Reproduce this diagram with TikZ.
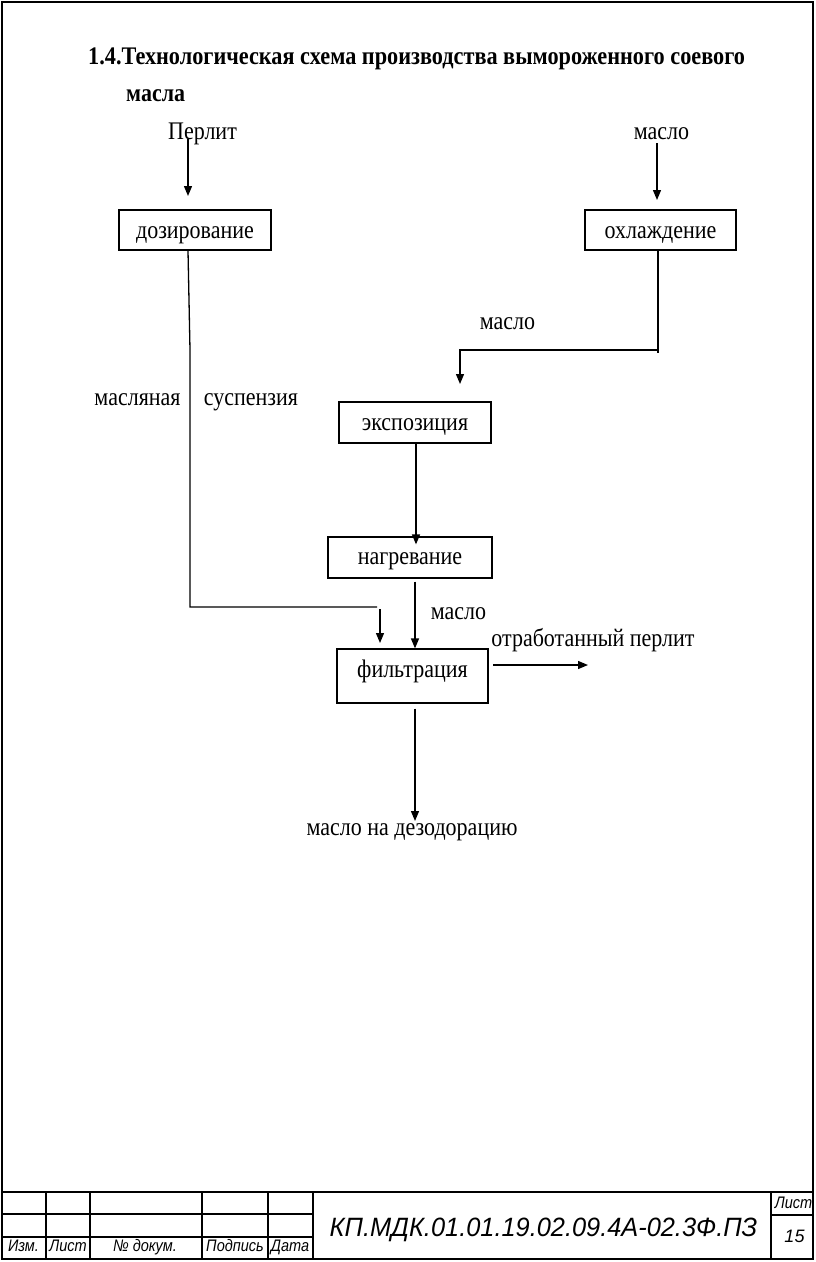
\documentclass[tikz,border=0pt]{standalone}
\usepackage{fontspec}
\setmainfont{Liberation Serif}
\newfontfamily\gostfont{Liberation Sans}
\usetikzlibrary{arrows.meta}
\newcommand{\vst}[1]{\scalebox{1}[1.15]{#1}}
\tikzset{
  procbox/.style={draw, line width=1.2pt, rectangle, inner sep=0pt, anchor=base, font=\fontsize{22}{24}\selectfont},
  lbl/.style={inner sep=0pt, anchor=base, font=\fontsize{22}{24}\selectfont},
  flow/.style={line width=1.3pt, -{Triangle[length=10pt,width=8pt]}},
  plain/.style={line width=1.3pt},
  frame/.style={line width=2pt},
  gost/.style={inner sep=0pt, anchor=base, font=\gostfont\itshape\fontsize{14.5}{16}\selectfont},
}
\begin{document}
\begin{tikzpicture}[x=1pt,y=-1pt]
\useasboundingbox (0,0) rectangle (816,1262);
% outer frame
\draw[frame] (2,2) rectangle (813,1259);
% title block
\draw[frame] (2,1192) -- (813,1192);
\draw[frame] (2,1214) -- (313,1214);
\draw[frame] (2,1237) -- (313,1237);
\foreach \xx in {46,90,202,268,313} \draw[frame] (\xx,1192) -- (\xx,1259);
\draw[frame] (771,1192) -- (771,1259);
\draw[frame] (771,1215) -- (813,1215);
\node[gost] (tizm) at (23.5,1251) {\vst{Изм.}};
\node[gost] (tlist) at (68,1251) {\vst{Лист}};
\node[gost] (tdoc) at (145,1251) {\vst{№ докум.}};
\node[gost] (tpodp) at (235,1251) {\vst{Подпись}};
\node[gost] (tdata) at (290,1251) {\vst{Дата}};
\node[gost] (tlist2) at (793.5,1208) {\vst{Лист}};
\node[gost, font=\gostfont\itshape\fontsize{18}{20}\selectfont] (tnum) at (794.5,1242) {15};
\node[inner sep=0pt, anchor=base, font=\gostfont\itshape\fontsize{26.5}{28}\selectfont] (tcode) at (543.5,1236) {\scalebox{0.957}[1]{КП.МДК.01.01.19.02.09.4А-02.3Ф.ПЗ}};
% heading
\node[inner sep=0pt, anchor=base west, font=\bfseries\fontsize{22}{24}\selectfont] (head1) at (88,64) {\scalebox{1.012}[1.15]{1.4.Технологическая схема производства вымороженного соевого}};
\node[inner sep=0pt, anchor=base west, font=\bfseries\fontsize{22}{24}\selectfont] (head2) at (126,101) {\vst{масла}};
% inputs
\node[lbl] (perlit) at (202.5,139) {\vst{Перлит}};
\node[lbl] (maslo1) at (661.5,139) {\vst{масло}};
% boxes (text height/depth fix the box edges round the baseline)
\node[procbox, minimum width=152pt, text height=28pt, text depth=12pt] (doz) at (195,238) {\vst{дозирование}};
\node[procbox, minimum width=151pt, text height=28pt, text depth=12pt] (ohl) at (660.5,238) {\vst{охлаждение}};
\node[procbox, minimum width=152pt, text height=28pt, text depth=13pt] (eks) at (415,430) {\vst{экспозиция}};
\node[procbox, minimum width=164pt, text height=27pt, text depth=14pt] (nagr) at (410,564) {\vst{нагревание}};
\node[procbox, minimum width=151pt, text height=28pt, text depth=26pt] (filt) at (412.5,677) {\vst{фильтрация}};
% labels
\node[lbl] (maslo2) at (507.5,329) {\vst{масло}};
\node[lbl] (masl) at (137.5,405) {\vst{масляная}};
\node[lbl] (susp) at (251,405) {\vst{суспензия}};
\node[lbl] (maslo3) at (458.5,619) {\vst{масло}};
\node[lbl] (otrab) at (593,646) {\vst{отработанный перлит}};
\node[lbl] (dezod) at (412,835) {\vst{масло на дезодорацию}};
% coordinates
\coordinate (pa) at (188,139);
\coordinate (pb) at (188,196);
\coordinate (ma) at (657,143);
\coordinate (mb) at (657,200);
\coordinate (oc) at (658,353);
\coordinate (ob) at (658,350);
\coordinate (oa) at (460,350);
\coordinate (oe) at (460,384);
\coordinate (ll1) at (190,350);
\coordinate (ll2) at (190,607);
\coordinate (ll3) at (377,607);
\coordinate (la) at (380,609);
\coordinate (lb) at (380,643);
\coordinate (fo) at (493,665);
\coordinate (fe) at (588,665);
\coordinate (fd) at (415,821);
% connectors
\draw[flow] (pa) -- (pb);
\draw[flow] (ma) -- (mb);
\draw[plain] (ohl.south -| oc) -- (oc);
\draw[flow] (ob) -- (oa) -- (oe);
\draw[flow] ([xshift=1pt]eks.south) -- ([xshift=6pt,yshift=-8pt]nagr.north);
\draw[flow] ([xshift=5pt,yshift=-3pt]nagr.south) -- ([xshift=2.5pt]filt.north);
\draw[plain] ([xshift=-7pt]doz.south) -- (ll1) -- (ll2) -- (ll3);
\draw[flow] (la) -- (lb);
\draw[flow] (fo) -- (fe);
\draw[flow] ([xshift=2.5pt,yshift=-5pt]filt.south) -- (fd);
\end{tikzpicture}
\end{document}
